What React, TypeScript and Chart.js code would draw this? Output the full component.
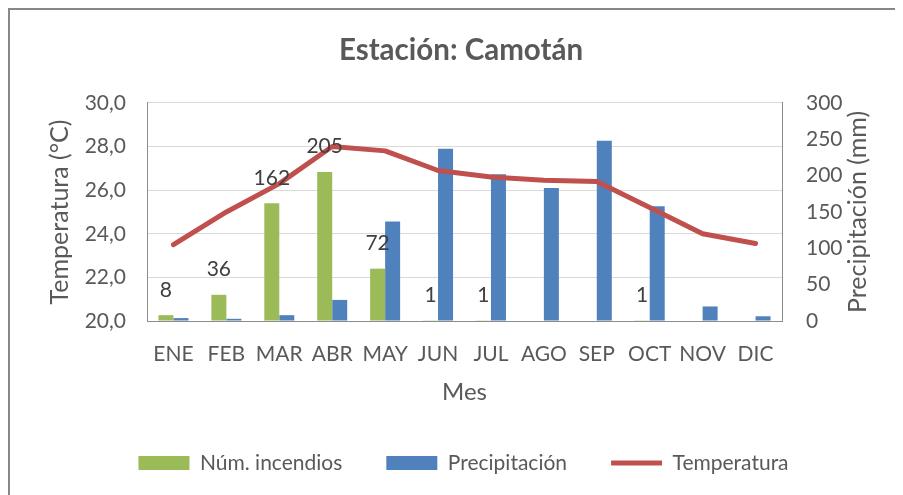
import React, { useEffect, useRef } from "react";
import { Chart, registerables } from "chart.js";

Chart.register(...registerables);

const months = ["ENE", "FEB", "MAR", "ABR", "MAY", "JUN", "JUL", "AGO", "SEP", "OCT", "NOV", "DIC"];
const incendios = [8, 36, 162, 205, 72, 1, 1, 0, 0, 1, 0, 0];
const precipitacion = [4, 3, 8, 29, 137, 237, 202, 183, 248, 158, 20, 6.5];
const temperatura = [23.5, 25.0, 26.3, 28.0, 27.8, 26.9, 26.6, 26.45, 26.4, 25.2, 24.0, 23.55];

const tempMin = 20;
const tempMax = 30;
const tempStep = 2;
const precMin = 0;
const precMax = 300;
const precStep = 50;

const titleText = "Estación: Camotán";
const leftTitle = "Temperatura (°C)";
const rightTitle = "Precipitación (mm)";
const xTitle = "Mes";
const seriesNames = ["Núm. incendios", "Precipitación", "Temperatura"];

const FONT = "Lato, 'Open Sans', 'DejaVu Sans', sans-serif";
const TEXT = "#595959";
const GREEN = "#9BBB59";
const BLUE = "#4F81BD";
const RED = "#C0504D";
const GRID = "#D9D9D9";
const AXIS = "#8C8C8C";

const barLabelPlugin = {
  id: "barLabels",
  afterDatasetsDraw(chart: any) {
    const meta = chart.getDatasetMeta(0);
    const ctx = chart.ctx;
    ctx.save();
    ctx.font = `21px ${FONT}`;
    ctx.fillStyle = "#404040";
    ctx.textAlign = "center";
    ctx.textBaseline = "alphabetic";
    meta.data.forEach((bar: any, i: number) => {
      const v = incendios[i];
      if (v > 0) ctx.fillText(String(v), bar.x, bar.y - 18.5);
    });
    ctx.restore();
  },
};

const rightTitlePlugin = {
  id: "rightTitle",
  afterDraw(chart: any) {
    const ctx = chart.ctx;
    const s = chart.scales.y1;
    const ca = chart.chartArea;
    ctx.save();
    ctx.translate(s.right - 37, (ca.top + ca.bottom) / 2);
    ctx.rotate(-Math.PI / 2);
    ctx.font = `25px ${FONT}`;
    ctx.fillStyle = TEXT;
    ctx.textAlign = "center";
    ctx.textBaseline = "middle";
    ctx.fillText(rightTitle, 0, 0);
    ctx.restore();
  },
};

const shiftPlugin = {
  id: "boxShift",
  afterLayout(chart: any) {
    if (chart.legend) chart.legend.left += 22;
    if (chart.titleBlock) chart.titleBlock.left += 17;
  },
};

export default function App() {
  const ref = useRef<HTMLCanvasElement | null>(null);

  useEffect(() => {
    if (!ref.current) return;
    const chart = new Chart(ref.current, {
      type: "bar",
      data: {
        labels: months,
        datasets: [
          {
            type: "bar",
            label: seriesNames[0],
            data: incendios,
            backgroundColor: GREEN,
            borderWidth: 0,
            yAxisID: "y1",
            order: 1,
            pointStyle: "rect",
            categoryPercentage: 0.567,
            barPercentage: 1.0,
          } as any,
          {
            type: "bar",
            label: seriesNames[1],
            data: precipitacion,
            backgroundColor: BLUE,
            borderWidth: 0,
            yAxisID: "y1",
            order: 2,
            pointStyle: "rect",
            categoryPercentage: 0.567,
            barPercentage: 1.0,
          } as any,
          {
            type: "line",
            label: seriesNames[2],
            data: temperatura,
            borderColor: RED,
            backgroundColor: RED,
            borderWidth: 5,
            borderCapStyle: "round",
            borderJoinStyle: "round",
            pointRadius: 0,
            pointHoverRadius: 0,
            pointBorderWidth: 5,
            pointBorderColor: RED,
            pointBackgroundColor: RED,
            pointStyle: "line",
            tension: 0,
            yAxisID: "y",
            order: 0,
          } as any,
        ],
      },
      options: {
        animation: false,
        responsive: false,
        events: [],
        layout: { padding: { top: 0, left: 0, right: 0, bottom: 11.5 } },
        plugins: {
          tooltip: { enabled: false },
          title: {
            display: true,
            text: titleText,
            color: TEXT,
            font: { family: FONT, size: 29.5, weight: "bold" },
            padding: { top: 22.3, bottom: 35.2 },
          },
          legend: {
            display: true,
            position: "bottom",
            labels: {
              usePointStyle: true,
              pointStyleWidth: 51,
              boxHeight: 14,
              padding: 44,
              color: TEXT,
              font: { family: FONT, size: 21 },
              sort: (a: any, b: any) => a.datasetIndex - b.datasetIndex,
            },
          },
        },
        scales: {
          x: {
            type: "category",
            grid: { display: false, drawTicks: false },
            border: { display: true, color: AXIS, width: 1 },
            ticks: { color: TEXT, font: { family: FONT, size: 21 }, padding: 21, maxRotation: 0, autoSkip: false },
            title: {
              display: true,
              text: xTitle,
              color: TEXT,
              font: { family: FONT, size: 24 },
              padding: { top: 0, bottom: 2.1 },
            },
            afterFit: (s: any) => {
              s.height = 87.5;
            },
          },
          y: {
            type: "linear",
            position: "left",
            min: tempMin,
            max: tempMax,
            grid: { color: GRID, lineWidth: 1, drawTicks: false },
            border: { display: true, color: AXIS, width: 1 },
            ticks: {
              stepSize: tempStep,
              color: TEXT,
              font: { family: FONT, size: 21 },
              padding: 21,
              callback: (v: any) => Number(v).toFixed(1).replace(".", ","),
            },
            title: {
              display: true,
              text: leftTitle,
              color: TEXT,
              font: { family: FONT, size: 25 },
              padding: { top: 35, bottom: 0 },
            },
            afterFit: (s: any) => {
              s.width = 137;
            },
          },
          y1: {
            type: "linear",
            position: "right",
            min: precMin,
            max: precMax,
            grid: { drawOnChartArea: false, drawTicks: false },
            border: { display: true, color: AXIS, width: 1 },
            ticks: {
              stepSize: precStep,
              color: TEXT,
              font: { family: FONT, size: 21 },
              padding: 24,
            },
            afterFit: (s: any) => {
              s.width = 113;
            },
          },
        },
      } as any,
      plugins: [barLabelPlugin, rightTitlePlugin, shiftPlugin],
    });
    return () => chart.destroy();
  }, []);

  return (
    <div
      style={{
        width: 887,
        height: 487,
        boxSizing: "border-box",
        borderTop: "2px solid #878787",
        borderLeft: "2px solid #878787",
        background: "#fff",
        overflow: "hidden",
      }}
    >
      <canvas ref={ref} width={885} height={485} style={{ display: "block" }} />
    </div>
  );
}
